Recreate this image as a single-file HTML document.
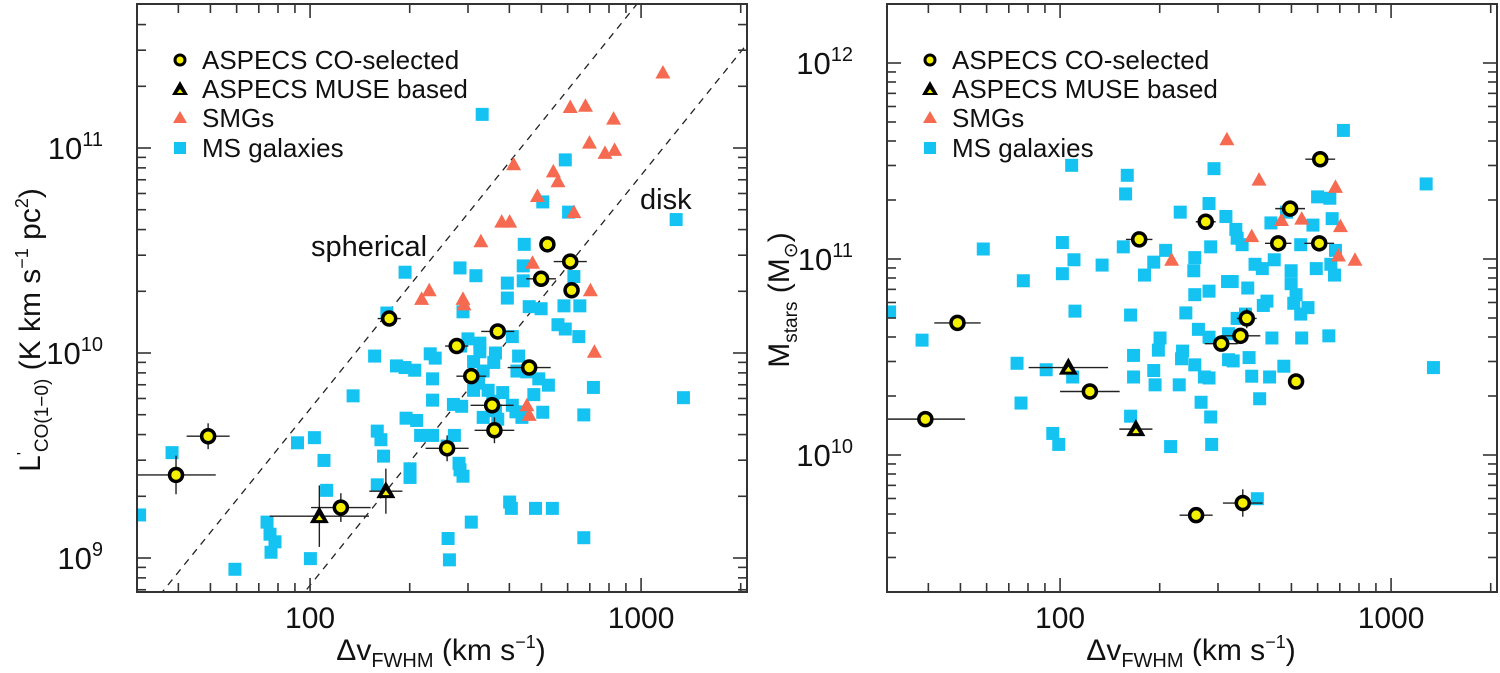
<!DOCTYPE html>
<html><head><meta charset="utf-8">
<style>
html,body{margin:0;padding:0;background:#fff;overflow:hidden;}
svg{display:block;font-family:"Liberation Sans",Arial,sans-serif;}
</style></head>
<body>
<svg id="fig" width="1500" height="673" viewBox="0 0 1500 673" xmlns="http://www.w3.org/2000/svg"></svg>
<script>
// ---------- Data (log10 values) ----------
// Left panel: log10(dv_FWHM [km/s]) and log10(L'CO [K km/s pc^2])
const msLX=[2.520,2.771,2.703,2.781,3.106,2.647,2.644,2.453,2.501,2.287,2.596,2.644,2.797,2.596,2.662,2.698,2.767,2.815,2.462,2.232,2.749,2.771,2.812,2.611,2.477,2.513,2.455,2.513,2.560,2.195,2.363,2.378,2.630,2.261,2.287,2.316,2.625,2.655,2.555,2.494,2.523,2.370,2.691,2.720,2.856,2.509,2.494,2.538,2.582,2.676,2.130,2.552,2.370,2.433,2.458,2.611,2.560,2.622,2.703,2.827,3.128,2.523,2.567,2.640,2.290,2.322,2.334,2.370,2.436,2.203,2.214,2.013,1.962,2.414,1.583,2.042,2.222,2.450,2.453,2.462,2.302,2.302,2.203,2.050,2.603,2.608,2.681,2.732,1.485,2.487,1.870,1.879,1.894,1.882,2.001,2.417,2.827,2.421,1.773];
const msLY=[11.164,10.942,10.737,10.687,10.651,10.530,10.425,10.415,10.377,10.394,10.341,10.352,10.373,10.268,10.226,10.216,10.230,10.230,10.201,10.195,10.138,10.117,10.080,10.080,10.069,10.048,10.034,10.006,10.000,9.985,9.996,9.975,9.985,9.937,9.929,9.916,9.912,9.908,9.954,9.958,9.912,9.874,9.874,9.843,9.832,9.853,9.818,9.818,9.807,9.797,9.791,9.765,9.770,9.749,9.740,9.745,9.719,9.713,9.711,9.698,9.782,9.686,9.677,9.686,9.682,9.671,9.598,9.598,9.598,9.619,9.577,9.587,9.562,9.546,9.514,9.476,9.497,9.462,9.430,9.399,9.435,9.393,9.357,9.330,9.273,9.242,9.242,9.242,9.210,9.175,9.175,9.116,9.079,9.028,8.997,9.095,9.099,8.991,8.945];
const smgLX=[3.066,2.786,2.832,2.917,2.844,2.891,2.920,2.615,2.735,2.749,2.687,2.797,2.579,2.603,2.516,2.672,2.360,2.337,2.462,2.465,2.847,2.859,2.655,2.662];
const smgLY=[11.368,11.200,11.206,11.143,11.026,10.976,10.991,10.921,10.886,10.838,10.766,10.687,10.641,10.641,10.545,10.440,10.306,10.264,10.264,10.237,10.306,10.006,9.745,9.698];
const coLX=[2.717,2.786,2.698,2.790,2.239,2.567,2.443,2.662,2.487,2.550,2.557,2.414,1.692,1.595,2.093];
const coLY=[10.530,10.446,10.362,10.306,10.168,10.105,10.034,9.929,9.887,9.745,9.623,9.535,9.594,9.405,9.246];
const coLXerr=[0,0.05,0.045,0,0.035,0.05,0.035,0.065,0.045,0.065,0.06,0.065,0.065,0.12,0.09];
const coLYerr=[0,0,0,0,0.03,0,0,0,0,0,0.063,0.063,0.063,0.094,0.07];
const museLX=[2.028,2.229];
const museLY=[9.204,9.326];
const museLXerr=[0.15,0.05];
const museLYerr=[0.15,0.11];
// Dashed virial lines: log L = slope*log dv + intercept
const lineSlope=2.0;
const sphericalIntercept=5.727;
const diskIntercept=4.867;

// Right panel: log10(dv_FWHM) and log10(M_stars [Msun])
const msRX=[1.485,1.583,1.768,1.870,1.882,1.889,1.958,1.978,1.996,2.007,2.007,2.035,2.038,2.042,2.045,2.127,2.203,2.198,2.213,2.191,2.222,2.222,2.213,2.255,2.283,2.283,2.287,2.297,2.302,2.319,2.334,2.363,2.367,2.360,2.380,2.370,2.404,2.407,2.407,2.407,2.418,2.426,2.436,2.450,2.450,2.455,2.450,2.455,2.465,2.450,2.458,2.501,2.506,2.520,2.509,2.509,2.531,2.535,2.550,2.523,2.567,2.571,2.579,2.589,2.603,2.611,2.614,2.625,2.640,2.633,2.637,2.647,2.676,2.684,2.698,2.698,2.706,2.713,2.730,2.727,2.749,2.727,2.764,2.778,2.774,2.815,2.822,2.812,2.818,2.829,2.832,2.856,3.106,3.128,2.596,2.560,2.535];
const msRY=[10.730,10.586,11.051,10.468,10.265,10.889,10.435,10.110,10.054,10.925,11.084,11.478,10.398,10.996,10.734,10.969,11.427,11.332,10.714,11.062,10.508,10.398,10.198,10.918,10.984,10.431,10.358,10.535,10.597,11.044,10.043,11.239,10.491,10.358,10.725,10.530,10.940,11.007,10.460,10.818,10.641,10.269,10.398,11.283,10.393,11.062,10.836,10.194,11.461,10.601,10.054,11.217,10.885,10.885,10.619,10.486,11.151,11.106,11.073,10.480,10.852,10.497,10.402,10.973,10.287,10.951,10.763,10.785,10.597,10.398,11.184,10.996,10.453,11.239,10.874,10.940,10.774,10.818,10.597,10.719,10.752,11.073,11.173,11.317,10.951,11.310,11.206,10.608,10.973,10.918,11.044,11.656,11.383,10.446,9.777,10.719,10.697];
const smgRX=[2.504,2.601,2.669,2.730,2.832,2.847,2.579,2.337,2.841,2.891];
const smgRY=[11.611,11.405,11.199,11.206,11.368,11.168,11.117,10.996,11.018,10.996];
const coRX=[2.786,2.695,2.440,2.239,2.659,2.783,2.564,2.545,2.487,1.690,2.713,2.090,1.593,2.411,2.552];
const coRY=[11.509,11.257,11.190,11.100,11.080,11.080,10.697,10.608,10.568,10.674,10.375,10.324,10.183,9.693,9.755];
const coRXerr=[0.045,0.045,0.03,0.04,0.04,0.045,0.03,0.06,0.05,0.07,0,0.09,0.12,0.05,0.06];
const coRYerr=[0,0,0,0,0,0,0.05,0,0,0,0,0,0,0,0.07];
const museRX=[2.025,2.229];
const museRY=[10.446,10.132];
const museRXerr=[0.12,0.05];
const museRYerr=[0,0];

const xTickVals=[100,1000];
const xTickLabels=["100","1000"];
const leftYTickExp=[9,10,11];
const rightYTickExp=[10,11,12];
const legendLabels=["ASPECS CO-selected","ASPECS MUSE based","SMGs","MS galaxies"];

// ---------- Rendering ----------
const NS="http://www.w3.org/2000/svg";
const svg=document.getElementById('fig');
function mk(tag,attrs,parent){const e=document.createElementNS(NS,tag);for(const k in attrs)e.setAttribute(k,attrs[k]);(parent||svg).appendChild(e);return e;}
const MS_COL="#14c3f2", SMG_COL="#f56a50";

function panel(cfg){
  const g=mk('g',{});
  
  
  const L=cfg.left,R=cfg.left+610,T=4,B=592;
  const lxmin=Math.log10(30), pxPerDex=331;
  const X=lx=>L+(lx-lxmin)*pxPerDex;
  const Y=ly=>cfg.y0-(ly-cfg.yRef)*cfg.yDex;
  const clip='clip-'+cfg.name;
  const cp=mk('clipPath',{id:clip},g); mk('rect',{x:L,y:T,width:R-L,height:B-T},cp);
  const plot=mk('g',{'clip-path':'url(#'+clip+')'},g);
  
  
  const tg=mk('g',{stroke:'#333','stroke-width':1.6},g);
  
  
  for(let d=1;d<=3;d++){for(let m=1;m<=9;m++){const v=m*Math.pow(10,d);if(v<30||v>2100)continue;const x=X(Math.log10(v));const len=m===1?14:9;
    mk('line',{x1:x,y1:B,x2:x,y2:B-len},tg);mk('line',{x1:x,y1:T,x2:x,y2:T+len},tg);}}
  for(let d=8;d<=12;d++){for(let m=1;m<=9;m++){const ly=d+Math.log10(m);const y=Y(ly);if(y<T+1||y>B-1)continue;const len=m===1?14:9;
    mk('line',{x1:L,y1:y,x2:L+len,y2:y},tg);mk('line',{x1:R,y1:y,x2:R-len,y2:y},tg);}}
  mk('rect',{x:L,y:T,width:R-L,height:B-T,fill:'none',stroke:'#333','stroke-width':2},g);
  xTickVals.forEach((v,i)=>{const t=mk('text',{x:X(Math.log10(v)),y:628,'font-size':30,'text-anchor':'middle',fill:'#111'},g);t.textContent=xTickLabels[i];
    
    });
  cfg.yExp.forEach(e=>{const t=mk('text',{x:L-34,y:Y(e)+11,'font-size':31,'text-anchor':'end',fill:'#111'},g);
    
    
    const a=mk('tspan',{},t);a.textContent='10';const b=mk('tspan',{dy:-13,'font-size':20},t);b.textContent=String(e);});
  const xt=mk('text',{x:L+304,y:660,'font-size':30,'text-anchor':'middle',fill:'#111'},g);
  
  
  [['Δv',0,30],['FWHM',7,20],[' (km s',-7,30],['−1',-12,18],[')',12,30]].forEach(p=>{const s=mk('tspan',{dy:p[1],'font-size':p[2]},xt);s.textContent=p[0];});
  cfg.drawExtra&&cfg.drawExtra(plot,X,Y,g);
  cfg.msX.forEach((lx,i)=>{const r=mk('rect',{x:X(lx)-6.5,y:Y(cfg.msY[i])-6.5,width:13,height:13,fill:MS_COL},plot);
    
    });
  cfg.smgX.forEach((lx,i)=>{const x=X(lx),y=Y(cfg.smgY[i]);const p=mk('polygon',{points:`${x},${y-7.5} ${x-7.5},${y+6} ${x+7.5},${y+6}`,fill:SMG_COL},plot);
    
    });
  const eb=(lx,ly,xe,ye)=>{const x=X(lx),y=Y(ly);
    if(xe>0)mk('line',{x1:X(lx-xe),y1:y,x2:X(lx+xe),y2:y,stroke:'#222','stroke-width':1.4},plot);
    if(ye>0)mk('line',{x1:x,y1:Y(ly-ye),x2:x,y2:Y(ly+ye),stroke:'#222','stroke-width':1.4},plot);};
  cfg.museX.forEach((lx,i)=>eb(lx,cfg.museY[i],cfg.museXe[i],cfg.museYe[i]));
  cfg.coX.forEach((lx,i)=>eb(lx,cfg.coY[i],cfg.coXe[i],cfg.coYe[i]));
  cfg.museX.forEach((lx,i)=>{const x=X(lx),y=Y(cfg.museY[i]);
    const p=mk('polygon',{points:`${x},${y-10} ${x-9.5},${y+7} ${x+9.5},${y+7}`,fill:'#000'},plot);
    
    
    mk('polygon',{points:`${x},${y-1} ${x-3.5},${y+4} ${x+3.5},${y+4}`,fill:'#f5f000'},plot);});
  cfg.coX.forEach((lx,i)=>{const c=mk('circle',{cx:X(lx),cy:Y(cfg.coY[i]),r:6.5,fill:'#f5f000',stroke:'#000','stroke-width':3.5},plot);
    
    });
  const lg=mk('g',{},g);
  
  
  const lx0=L+43, ly=[60,89,118,148];
  legendLabels.forEach((s,i)=>{const y=ly[i];
    if(i===0)mk('circle',{cx:lx0,cy:y,r:5,fill:'#f5f000',stroke:'#000','stroke-width':3},lg);
    if(i===1){mk('polygon',{points:`${lx0},${y-8} ${lx0-8},${y+6} ${lx0+8},${y+6}`,fill:'#000'},lg);mk('polygon',{points:`${lx0},${y} ${lx0-3},${y+4} ${lx0+3},${y+4}`,fill:'#f5f000'},lg);}
    if(i===2)mk('polygon',{points:`${lx0},${y-7} ${lx0-7},${y+5} ${lx0+7},${y+5}`,fill:SMG_COL},lg);
    if(i===3)mk('rect',{x:lx0-6,y:y-6,width:12,height:12,fill:MS_COL},lg);
    const t=mk('text',{x:lx0+22,y:y+9,'font-size':26,fill:'#111'},lg);t.textContent=s;
    
    });
  return g;
}

panel({name:'left-panel',left:137,y0:353,yRef:10,yDex:205,yExp:leftYTickExp,
  msX:msLX,msY:msLY,smgX:smgLX,smgY:smgLY,coX:coLX,coY:coLY,coXe:coLXerr,coYe:coLYerr,
  museX:museLX,museY:museLY,museXe:museLXerr,museYe:museLYerr,
  drawExtra:(plot,X,Y,g)=>{
    [sphericalIntercept,diskIntercept].forEach((b,k)=>{const a=Math.log10(25),c=Math.log10(2500);
      const l=mk('line',{x1:X(a),y1:Y(lineSlope*a+b),x2:X(c),y2:Y(lineSlope*c+b),stroke:'#222','stroke-width':1.3,'stroke-dasharray':'7,6'},plot);
      
      });
    const t1=mk('text',{x:311,y:256,'font-size':29,fill:'#111'},g);t1.textContent='spherical';
    
    
    const t2=mk('text',{x:640,y:209,'font-size':29,fill:'#111'},g);t2.textContent='disk';
    
    
    const yt=mk('text',{transform:'translate(40,330) rotate(-90)','font-size':30,'text-anchor':'middle',fill:'#111'},g);
    
    
    [["L",0,30],["'",-12,16],["CO(1−0)",20,19],[" (K km s",-8,30],["−1",-12,18],[" pc",12,30],["2",-12,18],[")",12,30]].forEach(p=>{const s=mk('tspan',{dy:p[1],'font-size':p[2]},yt);s.textContent=p[0];});
  }});

panel({name:'right-panel',left:887,y0:259,yRef:11,yDex:196,yExp:rightYTickExp,
  msX:msRX,msY:msRY,smgX:smgRX,smgY:smgRY,coX:coRX,coY:coRY,coXe:coRXerr,coYe:coRYerr,
  museX:museRX,museY:museRY,museXe:museRXerr,museYe:museRYerr,
  drawExtra:(plot,X,Y,g)=>{
    const yt=mk('text',{transform:'translate(789,300) rotate(-90)','font-size':30,'text-anchor':'middle',fill:'#111'},g);
    
    
    [["M",0,30],["stars",8,19],[" (M",-8,30],["⊙",8,19],[")",-8,30]].forEach(p=>{const s=mk('tspan',{dy:p[1],'font-size':p[2]},yt);s.textContent=p[0];});
  }});
</script>
</body></html>
